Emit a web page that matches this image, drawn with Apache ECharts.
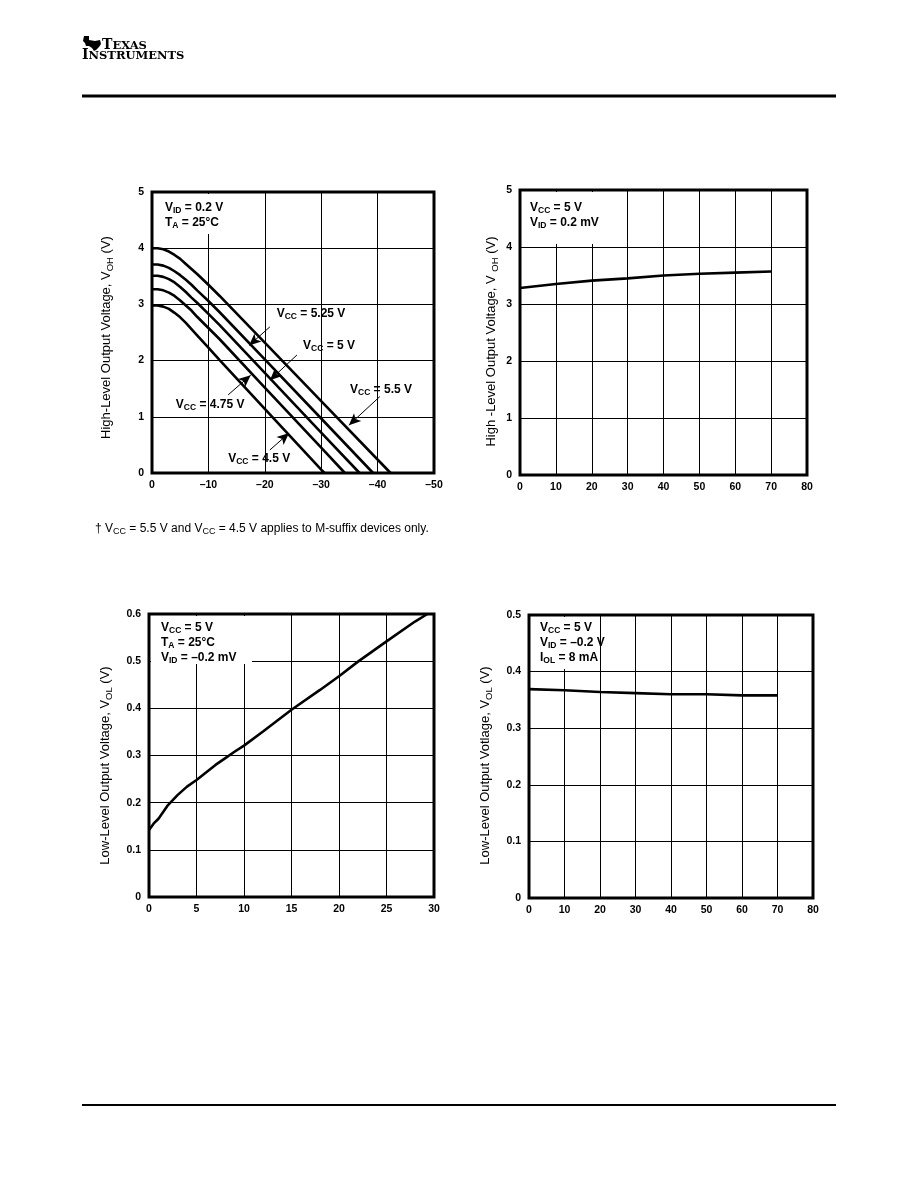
<!DOCTYPE html>
<html>
<head>
<meta charset="utf-8">
<script src="https://cdn.jsdelivr.net/npm/echarts@6/dist/echarts.min.js"></script>
<style>
  html, body { margin: 0; padding: 0; background: #fff; }
  #main { width: 918px; height: 1188px; }
</style>
</head>
<body>
<div id="main"></div>
<script>
// ---- data ----

// VOH vs IOH (mA, sink shown negative), one curve per VCC
const iohPts = [0, -1, -2, -3, -4, -5, -6, -7, -8, -10, -12, -20, -30];
const voh450 = [2.98, 2.98, 2.96, 2.92, 2.85, 2.77, 2.67, 2.56, 2.45, 2.23, 2.01, 1.14, 0.06];
const voh475 = [3.27, 3.27, 3.25, 3.21, 3.15, 3.07, 2.98, 2.89, 2.78, 2.58, 2.38, 1.52, 0.45];
const voh500 = [3.51, 3.51, 3.49, 3.45, 3.39, 3.31, 3.22, 3.12, 3.03, 2.83, 2.63, 1.78, 0.72];
const voh525 = [3.71, 3.71, 3.69, 3.65, 3.59, 3.52, 3.44, 3.35, 3.25, 3.06, 2.86, 2.02, 0.97];
const voh550 = [4.00, 4.00, 3.98, 3.94, 3.88, 3.81, 3.72, 3.63, 3.54, 3.35, 3.15, 2.32, 1.28];
// current where each curve reaches 0 V
const iohZero = [-30.6, -34.2, -36.8, -39.2, -42.3];

// VOH vs free-air temperature
const tempA = [0, 10, 20, 30, 40, 50, 60, 70];
const vohTemp = [3.28, 3.35, 3.41, 3.45, 3.50, 3.53, 3.55, 3.57];

// VOL vs IOL (mA)
const iolPts = [0, 0.5, 1, 2, 3, 4, 5, 6, 7, 8, 9, 10, 12, 15, 18, 20, 22, 25, 28, 29.3];
const volCur = [0.142, 0.156, 0.166, 0.195, 0.216, 0.234, 0.248, 0.264, 0.280, 0.294, 0.308, 0.321, 0.351, 0.397, 0.439, 0.468, 0.499, 0.542, 0.584, 0.600];

// VOL vs free-air temperature
const tempB = [0, 10, 20, 30, 40, 50, 60, 70];
const volTemp = [0.369, 0.367, 0.364, 0.362, 0.360, 0.360, 0.358, 0.358];

// axis ticks
const xTicksA = { min: -50, max: 0, step: 10 };
const xTicksT = { min: 0, max: 80, step: 10 };
const xTicksI = { min: 0, max: 30, step: 5 };

const F = 'Liberation Sans, Arial, Helvetica, sans-serif';

function zip(xs, ys) {
  return xs.map(function (x, i) { return [x, ys[i]]; });
}

// bold annotation text with subscripts
const boldRich = {
  b: { fontFamily: F, fontWeight: 'bold', fontSize: 12, lineHeight: 15, color: '#000', verticalAlign: 'middle' },
  s: { fontFamily: F, fontWeight: 'bold', fontSize: 8.5, lineHeight: 8, color: '#000', verticalAlign: 'bottom' }
};
const nameRich = {
  n: { fontFamily: F, fontSize: 13, lineHeight: 18, color: '#000', verticalAlign: 'middle' },
  s: { fontFamily: F, fontSize: 9.5, lineHeight: 9, color: '#000', verticalAlign: 'bottom' }
};
const noteRich = {
  r: { fontFamily: F, fontSize: 12, lineHeight: 15, color: '#000', verticalAlign: 'middle' },
  s: { fontFamily: F, fontSize: 9, lineHeight: 8, color: '#000', verticalAlign: 'bottom' }
};
const logoRich = {
  c: { fontFamily: 'DejaVu Serif', fontWeight: 'bold', fontSize: 14, color: '#000', verticalAlign: 'bottom', lineHeight: 12 },
  s: { fontFamily: 'DejaVu Serif', fontWeight: 'bold', fontSize: 11.5, color: '#000', verticalAlign: 'bottom', lineHeight: 12 }
};

const grids = [
  { left: 152, top: 192, width: 282, height: 281 },
  { left: 520, top: 190, width: 287, height: 285 },
  { left: 149, top: 614, width: 285, height: 283 },
  { left: 529, top: 615, width: 284, height: 283 }
];

function xAx(gi, t, inverse, fmt) {
  return {
    type: 'value', gridIndex: gi, min: t.min, max: t.max, interval: t.step, inverse: inverse,
    axisLine: { show: false }, axisTick: { show: false },
    splitLine: { show: true, lineStyle: { color: '#000', width: 1 } },
    axisLabel: { color: '#000', fontFamily: F, fontWeight: 'bold', fontSize: 10.5, margin: 7, formatter: fmt }
  };
}
function yAx(gi, max, step, name, gap, shift) {
  return {
    type: 'value', gridIndex: gi, min: 0, max: max, interval: step,
    name: name, nameLocation: 'middle', nameGap: gap, nameRotate: 90,
    nameTextStyle: { rich: nameRich, padding: [0, shift, 0, 0] },
    axisLine: { show: false }, axisTick: { show: false },
    splitLine: { show: true, lineStyle: { color: '#000', width: 1 } },
    axisLabel: { color: '#000', fontFamily: F, fontWeight: 'bold', fontSize: 10.5, margin: 8 }
  };
}
function curve(gi, data, extra) {
  return Object.assign({
    type: 'line', xAxisIndex: gi, yAxisIndex: gi, data: data,
    showSymbol: false, symbol: 'none', silent: true, z: 3,
    lineStyle: { color: '#000', width: 2.6 }
  }, extra || {});
}

// arrows and labels of the VCC family (data units)
const arrows = [
  [[-20.9, 2.60], [-17.2, 2.27]],
  [[-25.7, 2.10], [-20.9, 1.65]],
  [[-13.5, 1.39], [-17.5, 1.74]],
  [[-20.9, 0.41], [-24.3, 0.71]],
  [[-40.4, 1.36], [-34.9, 0.85]]
];
const vccLabels = [
  { name: '{b|V}{s|CC}{b| = 5.25 V}', coord: [-28.2, 2.83] },
  { name: '{b|V}{s|CC}{b| = 5 V}', coord: [-31.4, 2.26] },
  { name: '{b|V}{s|CC}{b| = 4.75 V}', coord: [-10.3, 1.21] },
  { name: '{b|V}{s|CC}{b| = 4.5 V}', coord: [-19.0, 0.25] },
  { name: '{b|V}{s|CC}{b| = 5.5 V}', coord: [-40.6, 1.49] }
];

function withZero(ys, i) {
  return zip(iohPts, ys).concat([[iohZero[i], 0]]);
}

function box(x, y, w, h) {
  return { type: 'rect', shape: { x: x, y: y, width: w, height: h }, style: { fill: '#fff' }, z: 10, silent: true };
}
function txt(x, y, text, rich) {
  return { type: 'text', x: x, y: y, z: 11, silent: true,
    style: { text: text, rich: rich, fill: '#000' } };
}

const chart = echarts.init(document.getElementById('main'), null, { renderer: 'canvas' });

const option = {
  animation: false,
  backgroundColor: '#fff',
  grid: grids.map(function (g) {
    return Object.assign({ show: true, borderColor: '#000', borderWidth: 3, backgroundColor: 'transparent' }, g);
  }),
  xAxis: [
    xAx(0, xTicksA, true, function (v) { return v === 0 ? '0' : '\u2013' + Math.abs(v); }),
    xAx(1, xTicksT, false),
    xAx(2, xTicksI, false),
    xAx(3, xTicksT, false)
  ],
  yAxis: [
    yAx(0, 5, 1, '{n|High-Level Output Voltage, V}{s|OH}{n| (V)}', 37, 10),
    yAx(1, 5, 1, '{n|High -Level Output Voltage, V }{s|OH}{n| (V)}', 20, 18),
    yAx(2, 0.6, 0.1, '{n|Low-Level Output Voltage, V}{s|OL}{n| (V)}', 35, 20),
    yAx(3, 0.5, 0.1, '{n|Low-Level Output Votlage, V}{s|OL}{n| (V)}', 35, 18)
  ],
  series: [
    curve(0, withZero(voh450, 0)),
    curve(0, withZero(voh475, 1)),
    curve(0, withZero(voh500, 2)),
    curve(0, withZero(voh525, 3)),
    curve(0, withZero(voh550, 4), {
      markLine: {
        silent: true, animation: false,
        symbol: ['none', 'arrow'], symbolSize: [8, 12],
        lineStyle: { color: '#000', width: 1, type: 'solid' },
        label: { show: false },
        data: arrows.map(function (a) { return [{ coord: a[0] }, { coord: a[1] }]; })
      },
      markPoint: {
        silent: true, animation: false,
        symbol: 'circle', symbolSize: 0,
        label: { show: true, position: 'inside', formatter: function (p) { return p.name; }, rich: boldRich },
        data: vccLabels
      }
    }),
    curve(1, zip(tempA, vohTemp)),
    curve(2, zip(iolPts, volCur)),
    curve(3, zip(tempB, volTemp))
  ],
  graphic: [
    // header
    { type: 'polygon', z: 5, silent: true,
      shape: { points: [[84, 36], [89, 36], [89, 40], [95, 41], [100, 40], [101, 44], [99, 47], [96, 50], [94, 51], [92, 48], [89, 46], [86, 46], [85, 43], [83, 41]] },
      style: { fill: '#000' } },
    txt(102, 40, '{c|T}{s|EXAS}', logoRich),
    txt(82, 50, '{c|I}{s|NSTRUMENTS}', logoRich),
    { type: 'line', z: 5, silent: true, shape: { x1: 82, y1: 96, x2: 836, y2: 96 }, style: { stroke: '#000', lineWidth: 3 } },
    { type: 'line', z: 5, silent: true, shape: { x1: 82, y1: 1105, x2: 836, y2: 1105 }, style: { stroke: '#000', lineWidth: 2 } },

    // condition boxes
    box(154, 194, 78, 40),
    txt(165, 200, '{b|V}{s|ID}{b| = 0.2 V}\n{b|T}{s|A}{b| = 25°C}', boldRich),
    box(522, 192, 103, 52),
    txt(530, 200, '{b|V}{s|CC}{b| = 5 V}\n{b|V}{s|ID}{b| = 0.2 mV}', boldRich),
    box(151, 616, 101, 48),
    txt(161, 620, '{b|V}{s|CC}{b| = 5 V}\n{b|T}{s|A}{b| = 25°C}\n{b|V}{s|ID}{b| = \u20130.2 mV}', boldRich),
    box(531, 617, 67, 52),
    txt(540, 620, '{b|V}{s|CC}{b| = 5 V}\n{b|V}{s|ID}{b| = \u20130.2 V}\n{b|I}{s|OL}{b| = 8 mA}', boldRich),

    // footnote
    txt(95, 521, '{r|\u2020 V}{s|CC}{r| = 5.5 V and V}{s|CC}{r| = 4.5 V applies to M-suffix devices only.}', noteRich)
  ]
};

chart.setOption(option);
window.onresize = chart.resize;
</script>
</body>
</html>
